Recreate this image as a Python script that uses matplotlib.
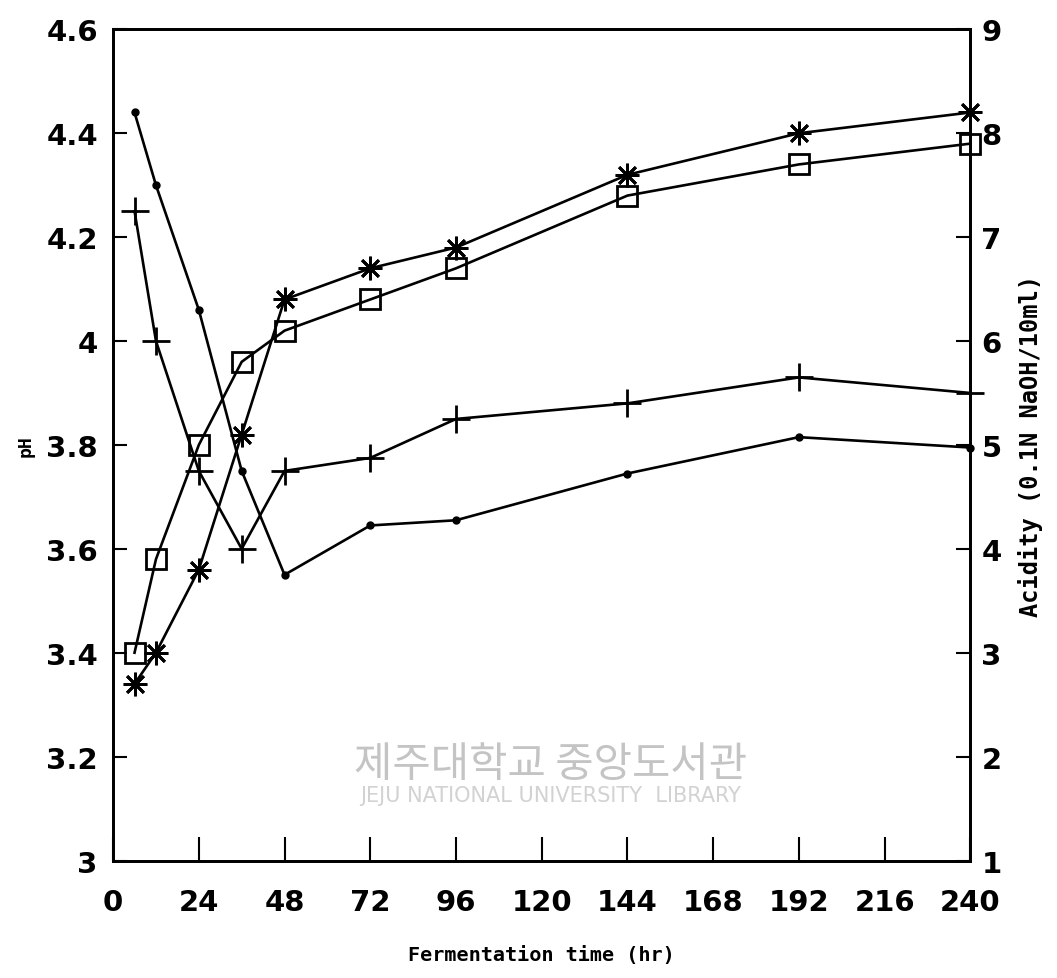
import numpy as np
import matplotlib
matplotlib.use("Agg")
import matplotlib.pyplot as plt

# sampling times (hr)
hours = [6, 12, 24, 36, 48, 72, 96, 144, 192, 240]

# pH series (left axis)
ph_dot = [4.44, 4.30, 4.06, 3.75, 3.55, 3.645, 3.655, 3.745, 3.815, 3.795]
ph_plus = [4.25, 4.00, 3.75, 3.60, 3.75, 3.775, 3.85, 3.88, 3.93, 3.90]

# acidity series (right axis, 0.1N NaOH/10ml)
acid_square = [3.0, 3.9, 5.0, 5.8, 6.1, 6.4, 6.7, 7.4, 7.7, 7.9]
acid_star = [2.7, 3.0, 3.8, 5.1, 6.4, 6.7, 6.9, 7.6, 8.0, 8.2]

x_ticks = [0, 24, 48, 72, 96, 120, 144, 168, 192, 216, 240]
ph_ticks = [3, 3.2, 3.4, 3.6, 3.8, 4, 4.2, 4.4, 4.6]
acid_ticks = [1, 2, 3, 4, 5, 6, 7, 8, 9]

fig = plt.figure(figsize=(10.57, 9.79), dpi=100)
ax = fig.add_axes([0.107, 0.12, 0.811, 0.849])
ax2 = ax.twinx()

lw = 1.9
ax.plot(hours, ph_dot, color="black", lw=lw, marker="o", ms=5, clip_on=False, zorder=3)
ax.plot(hours, ph_plus, color="black", lw=lw, marker="+", ms=20, mew=2, clip_on=False, zorder=3)
ax2.plot(hours, acid_square, color="black", lw=lw, marker="s", ms=15, mfc="none", mew=2, clip_on=False, zorder=3)
ax2.plot(hours, acid_star, color="black", lw=lw, marker=(8, 2, 0), ms=17, mew=2, clip_on=False, zorder=3)

ax.set_xlim(0, 240)
ax.set_ylim(3, 4.6)
ax2.set_ylim(1, 9)
ax.set_xticks(x_ticks)
ax.set_yticks(ph_ticks)
ax.set_yticklabels(["%g" % t for t in ph_ticks])
ax2.set_yticks(acid_ticks)

tick_font = dict(family="DejaVu Sans", weight="bold", size=21)
for lab in ax.get_xticklabels() + ax.get_yticklabels() + ax2.get_yticklabels():
    lab.set_fontproperties(matplotlib.font_manager.FontProperties(**tick_font))

ax.tick_params(axis="x", direction="in", length=17, width=1.5, pad=20)
ax.tick_params(axis="y", direction="in", length=10, width=1.5, pad=11)
ax2.tick_params(axis="y", direction="in", length=10, width=1.5, pad=8)

for a in (ax, ax2):
    for s in a.spines.values():
        s.set_linewidth(2)

mono = dict(family="DejaVu Sans Mono", weight="bold")
ax.set_xlabel("Fermentation time (hr)", fontsize=14.5, labelpad=21, **mono)
ax.set_ylabel("pH", fontsize=13, labelpad=8, **mono)
ax2.set_ylabel("Acidity (0.1N NaOH/10ml)", fontsize=17, labelpad=12, **mono)

# library watermark
ax.text(0.51, 0.116, "제주대학교 중앙도서관", transform=ax.transAxes, ha="center", va="center",
        fontsize=30, color="#c4c4c4", family=["Noto Sans CJK KR", "DejaVu Sans"], zorder=0)
ax.text(0.51, 0.079, "JEJU NATIONAL UNIVERSITY  LIBRARY", transform=ax.transAxes, ha="center", va="center",
        fontsize=15, color="#d2d2d2", family="DejaVu Sans", zorder=0)

fig.savefig("out.png", dpi=100)
